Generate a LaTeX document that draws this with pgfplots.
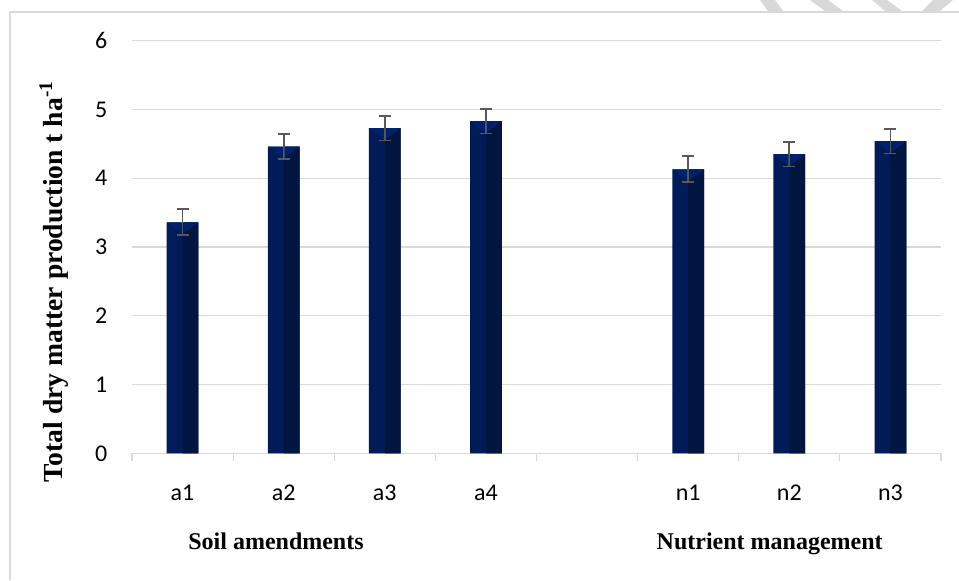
\documentclass[border=0pt]{standalone}
\usepackage{fontspec}
\setmainfont{Liberation Serif}
\newfontfamily\carlito{Carlito}
\usepackage{pgfplots}
\usepackage{pgfplotstable}
\pgfplotsset{compat=1.18}

\definecolor{barL}{HTML}{001B57}
\definecolor{barR}{HTML}{001540}
\definecolor{barTop}{HTML}{00226C}
\definecolor{errc}{HTML}{595959}
\definecolor{gridc}{HTML}{D9D9D9}

% bevel at the top of each bar, split at the centre so the error bar shows
\pgfdeclareplotmark{bevel}{%
  \pgfpathmoveto{\pgfqpoint{-7.925pt}{0pt}}%
  \pgfpathlineto{\pgfqpoint{-0.5pt}{0pt}}%
  \pgfpathlineto{\pgfqpoint{-0.5pt}{-5.62pt}}%
  \pgfpathclose
  \pgfpathmoveto{\pgfqpoint{7.925pt}{0pt}}%
  \pgfpathlineto{\pgfqpoint{0.5pt}{0pt}}%
  \pgfpathlineto{\pgfqpoint{0.5pt}{-5.62pt}}%
  \pgfpathclose\pgfusepathqfill}

% position, mean, error
\pgfplotstableread{
x val err
0 3.36 0.19
1 4.46 0.18
2 4.73 0.18
3 4.83 0.18
5 4.13 0.19
6 4.35 0.18
7 4.54 0.18
}\dmdata

\begin{document}
\begin{tikzpicture}
% frame in pixel units of the reference
\begin{scope}[shift={(-66pt,226.65pt)}, x=0.5pt, y=-0.5pt]
\path[use as bounding box, fill=white] (0,0) rectangle (959,580);
\fill[gridc] (760,0) -- (775,0) -- (783,11) -- (768,11) -- cycle;
\fill[gridc] (810,0) -- (828,0) -- (843,11) -- (825,11) -- cycle;
\fill[gridc] (872,0) -- (887,0) -- (902,11) -- (885,11) -- cycle;
\fill[gridc] (933,0) -- (953,0) -- (940,11) -- (922,11) -- cycle;
\draw[gridc, line width=0.6pt] (10,580) -- (10,12) -- (959,12);
\node[rotate=90, font=\bfseries\fontsize{13.8}{16}\selectfont] at (54,281.5)
  {Total dry matter production t ha\textsuperscript{-1}};
\node[anchor=base, font=\bfseries\fontsize{12}{14}\selectfont] at (276,549.3) {Soil amendments};
\node[anchor=base, font=\bfseries\fontsize{12}{14}\selectfont] at (769.7,549.3) {Nutrient management};
\end{scope}

\begin{axis}[
    scale only axis,
    width=404.5pt,
    height=206.3pt,
    at={(0,0)},
    anchor=south west,
    ybar,
    xmin=-0.5, xmax=7.5,
    ymin=0, ymax=6,
    axis line style={draw=none},
    ymajorgrids=true,
    grid style={gridc, line width=0.6pt},
    ytick={0,...,6},
    xtick={0,...,7},
    xticklabels={a1,a2,a3,a4,,n1,n2,n3},
    minor xtick={-0.5,0.5,...,7.5},
    xtick pos=bottom,
    ytick pos=left,
    tick align=outside,
    tick style={gridc, line width=0.6pt},
    major tick length=0pt,
    minor tick length=3.6pt,
    /pgf/number format/assume math mode=true,
    xticklabel style={font=\carlito\fontsize{12}{14}\selectfont, anchor=base, yshift=-23.7pt},
    yticklabel style={font=\carlito\fontsize{12}{14}\selectfont, anchor=east, inner sep=0pt, xshift=-12.2pt},
]

\addplot[fill=barL, draw=none, bar width=15.85pt, bar shift=0pt]
  table[x=x, y=val] {\dmdata};
\addplot[fill=barR, draw=none, bar width=7.925pt, bar shift=3.9625pt]
  table[x=x, y=val] {\dmdata};
\addplot[draw=none, fill=none, bar width=15.85pt, bar shift=0pt,
  mark=bevel, mark options={fill=barTop, draw=none}]
  table[x=x, y=val] {\dmdata};
\addplot[draw=none, fill=none, bar width=15.85pt, bar shift=0pt,
  error bars/.cd, y dir=both, y explicit,
  error bar style={draw=errc, line width=0.9pt},
  error mark options={draw=errc, line width=0.9pt, mark size=3pt, rotate=90}]
  table[x=x, y=val, y error=err] {\dmdata};

\end{axis}
\end{tikzpicture}
\end{document}
